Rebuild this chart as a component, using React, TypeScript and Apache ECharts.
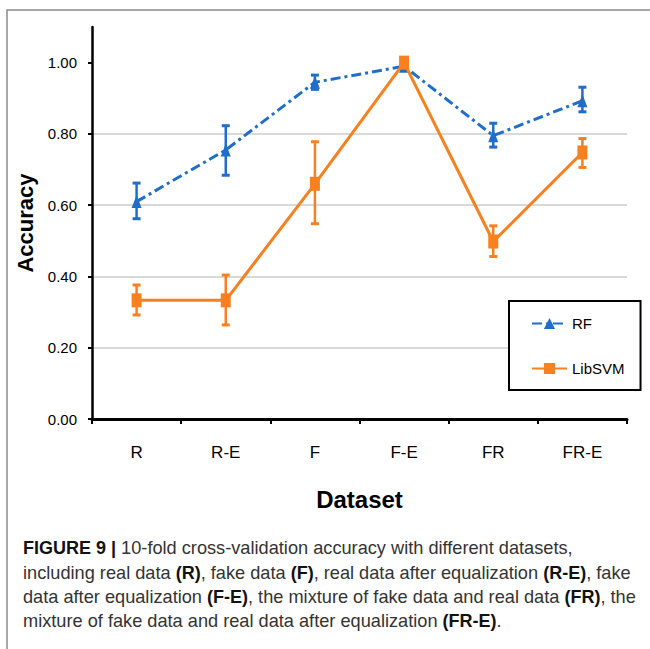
import React, { useEffect, useRef } from 'react';
import * as echarts from 'echarts';

const categories = ['R', 'R-E', 'F', 'F-E', 'FR', 'FR-E'];
const rfMean = [0.61, 0.755, 0.945, 0.99, 0.795, 0.893];
const rfLow = [0.562, 0.684, 0.925, 0.98, 0.763, 0.862];
const rfHigh = [0.662, 0.823, 0.965, 1.0, 0.83, 0.931];
const svmMean = [0.333, 0.333, 0.66, 1.0, 0.498, 0.748];
const svmLow = [0.292, 0.264, 0.548, 0.993, 0.456, 0.706];
const svmHigh = [0.376, 0.404, 0.778, 1.006, 0.542, 0.787];
const yTicks = [0, 0.2, 0.4, 0.6, 0.8, 1.0];

const RF_COLOR = '#1f6fca';
const SVM_COLOR = '#f9801f';
const NARROW = '"Liberation Sans Narrow", "Arial Narrow", "Liberation Sans", Arial, sans-serif';
const SANS = '"Liberation Sans", Arial, Helvetica, sans-serif';

const captionLines = [
  '{b|FIGURE 9 |} 10-fold cross-validation accuracy with different datasets,',
  'including real data {b|(R)}, fake data {b|(F)}, real data after equalization {b|(R-E)}, fake',
  'data after equalization {b|(F-E)}, the mixture of fake data and real data {b|(FR)}, the',
  'mixture of fake data and real data after equalization {b|(FR-E)}.',
];

function errorBars(name: string, low: number[], high: number[], color: string) {
  return {
    type: 'custom',
    name,
    z: 3,
    silent: true,
    data: low.map((l, i) => [i, l, high[i]]),
    encode: { x: 0, y: [1, 2] },
    renderItem: (_params: any, api: any) => {
      const x = api.value(0);
      const lo = api.coord([x, api.value(1)]);
      const hi = api.coord([x, api.value(2)]);
      const hw = 4;
      const stem = { stroke: color, lineWidth: 2.5, fill: 'none' };
      const cap = { stroke: color, lineWidth: 3, fill: 'none' };
      return {
        type: 'group',
        children: [
          { type: 'line', shape: { x1: lo[0], y1: lo[1], x2: hi[0], y2: hi[1] }, style: stem },
          { type: 'line', shape: { x1: lo[0] - hw, y1: lo[1], x2: lo[0] + hw, y2: lo[1] }, style: cap },
          { type: 'line', shape: { x1: hi[0] - hw, y1: hi[1], x2: hi[0] + hw, y2: hi[1] }, style: cap },
        ],
      };
    },
  };
}

export default function App() {
  const ref = useRef<HTMLDivElement>(null);
  useEffect(() => {
    if (!ref.current) return;
    const chart = echarts.init(ref.current, null, { renderer: 'svg' });
    chart.setOption({
      animation: false,
      backgroundColor: '#ffffff',
      grid: { left: 92, right: 23, top: 27, bottom: 230, containLabel: false },
      legend: {
        data: ['RF', 'LibSVM'],
        orient: 'vertical',
        left: 509,
        top: 301,
        width: 124,
        padding: [15, 16, 14, 22],
        itemGap: 30,
        itemWidth: 35,
        itemHeight: 14,
        selectedMode: false,
        backgroundColor: '#ffffff',
        borderColor: '#000000',
        borderWidth: 2,
        borderRadius: 0,
        textStyle: { fontFamily: NARROW, fontSize: 15, color: '#000' },
      },
      xAxis: {
        type: 'category',
        data: categories,
        boundaryGap: true,
        name: 'Dataset',
        nameLocation: 'middle',
        nameGap: 68,
        nameTextStyle: { fontFamily: NARROW, fontSize: 24, fontWeight: 'bold', color: '#000' },
        axisLine: { lineStyle: { color: '#000', width: 3 } },
        axisTick: { show: true, length: 5, lineStyle: { color: '#000', width: 2 } },
        axisLabel: { fontFamily: NARROW, fontSize: 17, color: '#000', margin: 25 },
        splitLine: { show: false },
      },
      yAxis: {
        type: 'value',
        min: 0,
        max: 1.1,
        interval: 0.2,
        name: 'Accuracy',
        nameLocation: 'middle',
        nameGap: 45,
        nameRotate: 90,
        nameTextStyle: { fontFamily: SANS, fontSize: 22, fontWeight: 'bold', color: '#000' },
        axisLine: { show: true, lineStyle: { color: '#000', width: 2.5 } },
        axisTick: { show: true, length: 4, customValues: yTicks, lineStyle: { color: '#000', width: 2 } },
        axisLabel: {
          fontFamily: NARROW,
          fontSize: 15,
          color: '#000',
          margin: 15,
          customValues: yTicks,
          formatter: (v: number) => v.toFixed(2),
        },
        splitLine: { show: true, showMaxLine: false, lineStyle: { color: '#d9d9d9', width: 2 } },
      },
      graphic: [
        {
          type: 'rect',
          silent: true,
          shape: { x: 7, y: 10, width: 720, height: 720 },
          style: { fill: 'none', stroke: '#8a8a8a', lineWidth: 1.5 },
          z: -10,
        },
        {
          type: 'text',
          left: 23,
          top: 536,
          silent: true,
          style: {
            text: captionLines.join('\n'),
            fontFamily: SANS,
            fontSize: 18.2,
            lineHeight: 24.4,
            fill: '#333333',
            rich: {
              b: { fontFamily: SANS, fontSize: 18, fontWeight: 'bold', fill: '#111111', lineHeight: 24.4 },
            },
          },
        },
      ],
      series: [
        errorBars('RF error', rfLow, rfHigh, RF_COLOR),
        errorBars('LibSVM error', svmLow, svmHigh, SVM_COLOR),
        {
          type: 'line',
          name: 'RF',
          data: rfMean,
          z: 4,
          symbol: 'triangle',
          symbolSize: [10, 13],
          showAllSymbol: true,
          itemStyle: { color: RF_COLOR },
          lineStyle: { color: RF_COLOR, width: 3, type: [10, 4, 3, 4] },
        },
        {
          type: 'line',
          name: 'LibSVM',
          data: svmMean,
          z: 5,
          symbol: 'rect',
          symbolSize: [10, 14],
          showAllSymbol: true,
          itemStyle: { color: SVM_COLOR },
          lineStyle: { color: SVM_COLOR, width: 3, type: 'solid' },
        },
      ],
    });
    return () => chart.dispose();
  }, []);
  return (
    <div
      ref={ref}
      style={{ position: 'fixed', left: 0, top: 0, width: 650, height: 649, background: '#fff' }}
    />
  );
}
